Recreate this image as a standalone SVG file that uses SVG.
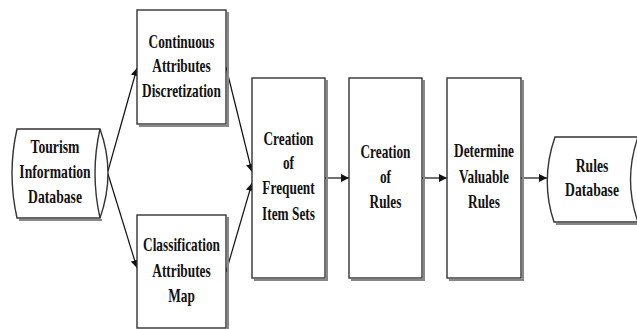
<svg xmlns="http://www.w3.org/2000/svg" width="637" height="329" viewBox="0 0 637 329">
<defs>
<style>
.box{fill:#fff;stroke:#333;stroke-width:1.4}
.sh{fill:none;stroke:#888;stroke-width:2}
.db{fill:#fff;stroke:#333;stroke-width:1.4}
.ln{fill:none;stroke:#111;stroke-width:1.2}
text{font-family:"Liberation Serif","Times New Roman",serif;font-weight:bold;font-size:18px;fill:#111;text-anchor:middle}
</style>
<marker id="ah" viewBox="0 0 10 10" refX="10" refY="5" markerWidth="8" markerHeight="8" markerUnits="userSpaceOnUse" orient="auto">
<path d="M0,0 L10,5 L0,10 z" fill="#111"/>
</marker>
</defs>
<rect width="637" height="329" fill="#fff"/>
<g id="connectors">
<line class="ln" x1="108" y1="171" x2="137" y2="68" marker-end="url(#ah)"/>
<line class="ln" x1="108" y1="174" x2="137" y2="268" marker-end="url(#ah)"/>
<line class="ln" x1="226" y1="67" x2="252" y2="172" marker-end="url(#ah)"/>
<line class="ln" x1="226" y1="272" x2="252" y2="183" marker-end="url(#ah)"/>
<line class="ln" x1="325" y1="178" x2="349" y2="178" marker-end="url(#ah)"/>
<line class="ln" x1="422" y1="178" x2="447" y2="178" marker-end="url(#ah)"/>
<line class="ln" x1="521" y1="178" x2="547" y2="178" marker-end="url(#ah)"/>
</g>
<g id="tourism">
<path class="sh" d="M19,220 L102,220"/>
<path class="db" d="M17,129 L100,129 Q116,173 100,218 L17,218 Q7,173 17,129 z"/>
<path class="db" d="M100,129 Q90,173 100,218"/>
<g transform="translate(55,0) scale(0.76,1)">
<text x="0" y="153">Tourism</text>
<text x="0" y="178">Information</text>
<text x="0" y="203">Database</text>
</g>
</g>
<g id="continuous">
<path class="sh" d="M139,126 L228,126 L228,12"/>
<rect class="box" x="137" y="10" width="89" height="114"/>
<g transform="translate(181.5,0) scale(0.74,1)">
<text x="0" y="48">Continuous</text>
<text x="0" y="72">Attributes</text>
<text x="0" y="97">Discretization</text>
</g>
</g>
<g id="classification">
<path class="sh" d="M139,330 L228,330 L228,217"/>
<rect class="box" x="137" y="215" width="89" height="113"/>
<g transform="translate(181.5,0) scale(0.74,1)">
<text x="0" y="251">Classification</text>
<text x="0" y="277">Attributes</text>
<text x="0" y="302">Map</text>
</g>
</g>
<g id="frequent">
<path class="sh" d="M254,280 L327,280 L327,80"/>
<rect class="box" x="252" y="78" width="73" height="200"/>
<g transform="translate(288.5,0) scale(0.74,1)">
<text x="0" y="145">Creation</text>
<text x="0" y="169">of</text>
<text x="0" y="194">Frequent</text>
<text x="0" y="220">Item Sets</text>
</g>
</g>
<g id="rules">
<path class="sh" d="M351,280 L424,280 L424,80"/>
<rect class="box" x="349" y="78" width="73" height="200"/>
<g transform="translate(385.5,0) scale(0.74,1)">
<text x="0" y="158">Creation</text>
<text x="0" y="183">of</text>
<text x="0" y="208">Rules</text>
</g>
</g>
<g id="valuable">
<path class="sh" d="M449,280 L523,280 L523,80"/>
<rect class="box" x="447" y="78" width="74" height="200"/>
<g transform="translate(484,0) scale(0.74,1)">
<text x="0" y="157">Determine</text>
<text x="0" y="183">Valuable</text>
<text x="0" y="208">Rules</text>
</g>
</g>
<g id="rulesdb">
<path class="sh" d="M556,224 L640,224"/>
<path class="db" d="M555,137 L638,137 Q654,180 638,222 L554,222 Q540,180 555,137 z"/>
<path class="db" d="M638,137 Q623,180 638,222"/>
<g transform="translate(592,0) scale(0.76,1)">
<text x="0" y="172">Rules</text>
<text x="0" y="196">Database</text>
</g>
</g>
</svg>
